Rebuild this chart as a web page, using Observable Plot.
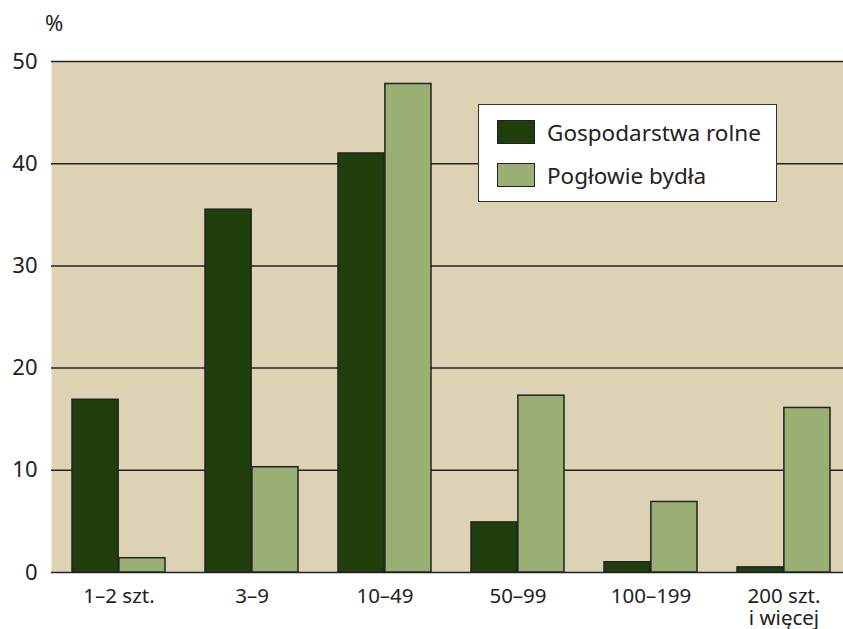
<!DOCTYPE html>
<html><head><meta charset="utf-8">
<script src="https://cdn.jsdelivr.net/npm/d3@7"></script>
<script src="https://cdn.jsdelivr.net/npm/@observablehq/plot@0.6"></script>
<style>
body{margin:0;background:#fff;font-family:"Noto Sans",sans-serif;}
#wrap{position:relative;width:843px;height:629px;overflow:hidden;}
#pct{position:absolute;left:45px;top:11px;font-size:22px;line-height:1;color:#222;}
#legend{position:absolute;left:478px;top:104px;width:299px;height:98px;background:#fff;border:1.5px solid #333;box-sizing:border-box;}
.row{position:absolute;left:18px;display:flex;align-items:center;font-size:22.5px;color:#222;white-space:nowrap;}
.sw{width:38px;height:24px;border:1.5px solid #222;box-sizing:border-box;margin-right:12px;}
</style>
</head><body>
<div id="wrap"><div id="pct">%</div></div>
<script>
const categories = ["1–2 szt.", "3–9", "10–49", "50–99", "100–199", "200 szt.\ni więcej"];
const seriesNames = ["Gospodarstwa rolne", "Pogłowie bydła"];
const farms = [16.9, 35.5, 41.0, 4.9, 1.0, 0.5];
const cattle = [1.4, 10.3, 47.8, 17.3, 6.9, 16.1];
const yTicks = [0, 10, 20, 30, 40, 50];
const colors = ["#203f0c", "#9aaf74"];

const W = 843, H = 629;
const mL = 51, mR = 0, mT = 61, mB = 57;
const xRange = [mL, 852];
const padIn = 0.3, padOut = 0.14;
const bw = d3.scaleBand().domain(categories).range(xRange).paddingInner(padIn).paddingOuter(padOut).bandwidth();

const dFarms = categories.map((c, i) => ({cat: c, v: farms[i]}));
const dCattle = categories.map((c, i) => ({cat: c, v: cattle[i]}));

const chart = Plot.plot({
  width: W, height: H,
  marginLeft: mL, marginRight: mR, marginTop: mT, marginBottom: mB,
  style: {fontFamily: '"Noto Sans", sans-serif', color: "#222", background: "transparent"},
  x: {domain: categories, range: xRange, paddingInner: padIn, paddingOuter: padOut, axis: null},
  y: {domain: [0, 50], axis: null},
  marks: [
    Plot.frame({fill: "#ddd3b4", stroke: null}),
    Plot.ruleY(yTicks, {stroke: "#222", strokeWidth: 1.5}),
    Plot.barY(dFarms, {x: "cat", y: "v", fill: colors[0], stroke: "#222", strokeWidth: 1.5, insetRight: bw / 2}),
    Plot.barY(dCattle, {x: "cat", y: "v", fill: colors[1], stroke: "#222", strokeWidth: 1.5, insetLeft: bw / 2}),
    Plot.axisY({ticks: yTicks, tickSize: 0, tickPadding: 14, fontSize: 22, label: null}),
    Plot.axisX({tickSize: 0, tickPadding: 14, fontSize: 20.5, label: null, lineHeight: 1.1})
  ]
});
const wrap = document.getElementById("wrap");
wrap.insertBefore(chart, wrap.firstChild);

const leg = document.createElement("div");
leg.id = "legend";
seriesNames.forEach((n, i) => {
  const r = document.createElement("div");
  r.className = "row";
  r.style.top = (i === 0 ? 14 : 57) + "px";
  r.style.height = "26px";
  const s = document.createElement("div");
  s.className = "sw";
  s.style.background = colors[i];
  const t = document.createElement("span");
  t.textContent = n;
  r.appendChild(s); r.appendChild(t);
  leg.appendChild(r);
});
wrap.appendChild(leg);
</script>
</body></html>
